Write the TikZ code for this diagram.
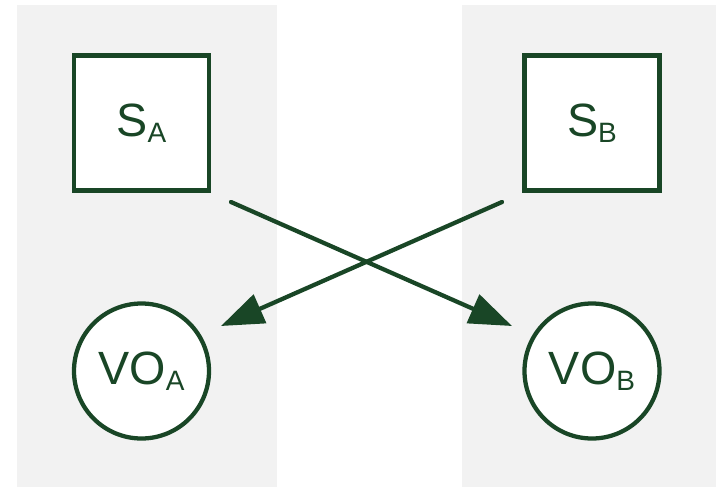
\documentclass[tikz,border=0pt]{standalone}
\usepackage{fontspec}
\setmainfont{Liberation Sans}
\usetikzlibrary{arrows.meta}

\definecolor{darkgreen}{RGB}{25,70,38}
\definecolor{panelgrey}{RGB}{242,242,242}

\newcommand{\lowsub}[1]{\raisebox{-4.5pt}{\fontsize{21}{21}\selectfont #1}}

\begin{document}
\begin{tikzpicture}[x=0.75pt,y=0.75pt]

\def\side{101.25pt}
\def\lw{3.2pt}

\tikzset{station/.style = {draw=darkgreen, line width=\lw, fill=white, minimum size=\side, inner sep=0pt, text=darkgreen, font=\fontsize{35}{35}\selectfont}}
\tikzset{object/.style = {station, circle}}
\tikzset{link/.style = {draw=darkgreen, line width=\lw, line cap=round, -{Triangle[length=32pt,width=23pt]}}}

\useasboundingbox (0,0) rectangle (716,487);
\fill[panelgrey] (17,0) rectangle (277,482);
\fill[panelgrey] (462,0) rectangle (716,482);

\node[station] (SA) at (141.5,364) {S\lowsub{A}};
\node[station] (SB) at (592,364) {S\lowsub{B}};
\node[object] (VOA) at (141.5,116) {VO\lowsub{A}};
\node[object] (VOB) at (592,116) {VO\lowsub{B}};

\path (SA) ++(89.5,-79) coordinate (SAout);
\path (SB) ++(-90,-79) coordinate (SBout);
\path (VOA) ++(79.5,45) coordinate (VOAin);
\path (VOB) ++(-80,45) coordinate (VOBin);

\draw[link] (SAout) -- (VOBin);
\draw[link] (SBout) -- (VOAin);

\end{tikzpicture}
\end{document}
